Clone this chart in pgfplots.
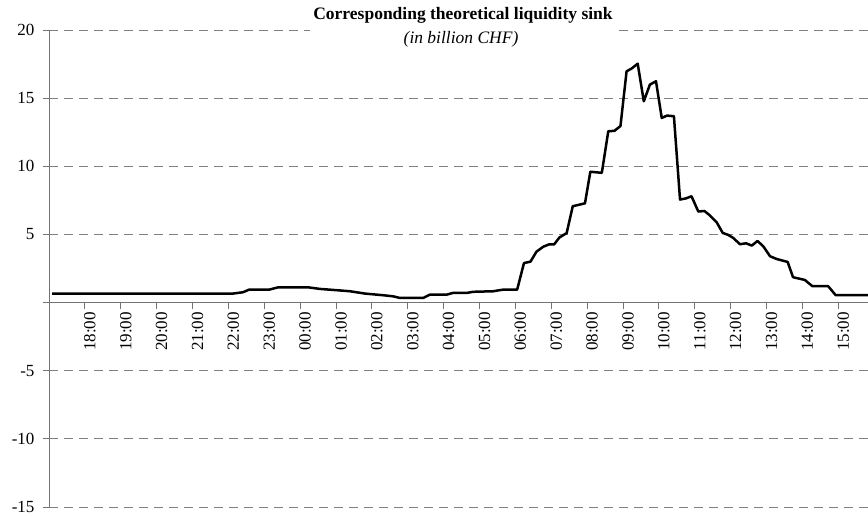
\documentclass[border=0pt]{standalone}
\usepackage{fontspec}
\setmainfont{Liberation Serif}
\usepackage{pgfplots}
\usepackage{pgfplotstable}
\pgfplotsset{compat=1.18}
\pgfplotstableread{
x y
0.09 0.65
5.10 0.65
5.41 0.76
5.58 0.95
6.14 0.95
6.39 1.12
7.22 1.12
7.56 1.00
8.06 0.90
8.39 0.83
8.81 0.66
9.31 0.54
9.59 0.46
9.78 0.34
10.43 0.34
10.62 0.59
11.10 0.59
11.26 0.71
11.65 0.71
11.82 0.79
12.38 0.83
12.66 0.95
13.05 0.95
13.24 2.90
13.42 3.00
13.59 3.74
13.78 4.10
13.94 4.27
14.08 4.27
14.23 4.78
14.43 5.10
14.60 7.07
14.94 7.28
15.09 9.60
15.41 9.52
15.59 12.57
15.76 12.60
15.93 12.95
16.10 16.97
16.24 17.17
16.41 17.53
16.58 14.77
16.75 15.99
16.92 16.24
17.08 13.55
17.23 13.72
17.42 13.67
17.59 7.56
17.75 7.64
17.91 7.80
18.10 6.68
18.27 6.72
18.42 6.40
18.61 5.90
18.78 5.11
18.93 4.97
19.07 4.75
19.26 4.28
19.43 4.35
19.59 4.18
19.75 4.52
19.91 4.13
20.10 3.40
20.28 3.20
20.59 2.98
20.74 1.86
21.07 1.66
21.28 1.20
21.72 1.20
21.93 0.54
22.83 0.54
}\sinkdata
\begin{document}
\begin{tikzpicture}[font=\fontsize{17}{20}\selectfont]
\useasboundingbox (-49pt,-8pt) rectangle (819pt,507pt);
\begin{axis}[
  at={(0,0)}, anchor=south west,
  scale only axis, width=819pt, height=477pt,
  xmin=0, xmax=22.83, ymin=-15, ymax=20,
  axis y line=left, axis x line=middle,
  axis line style={-, draw=black!55, line width=0.8pt},
  xtick={1,...,22},
  xticklabels={18:00,19:00,20:00,21:00,22:00,23:00,00:00,01:00,02:00,03:00,04:00,05:00,06:00,07:00,08:00,09:00,10:00,11:00,12:00,13:00,14:00,15:00},
  ytick={-15,-10,-5,0,5,10,15,20},
  yticklabels={-15,-10,-5,,5,10,15,20},
  tick align=outside, major tick length=6pt,
  tick style={draw=black!55, line width=0.8pt},
  ymajorgrids,
  grid style={dash pattern=on 9pt off 6pt, draw=black!50, line width=0.8pt},
  xticklabel style={xshift=5pt, rotate=90, anchor=east},
  yticklabel style={xshift=-5pt},
  clip=false,
]
\addplot[black, line width=2.5pt, line join=round] table[x=x, y=y] {\sinkdata};
\node[font=\fontsize{17.5}{20}\selectfont\bfseries, fill=white, inner xsep=3pt, inner ysep=1pt, text depth=12pt, anchor=base] at (rel axis cs:0.5055,1.021) {Corresponding theoretical liquidity sink};
\node[font=\fontsize{17.5}{20}\selectfont\itshape, anchor=base] at (rel axis cs:0.5031,0.9727) {(in billion CHF)};
\end{axis}
\end{tikzpicture}
\end{document}
